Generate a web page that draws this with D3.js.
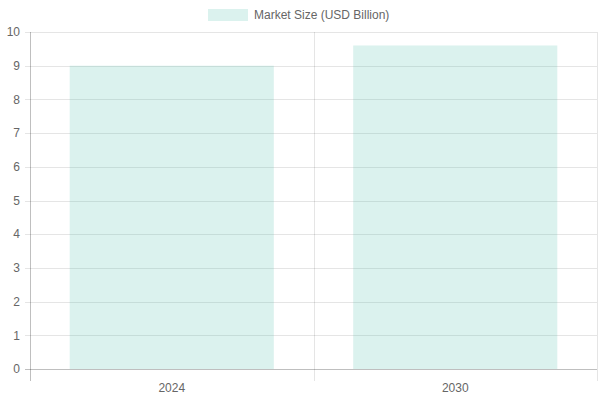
<html>
<script src="https://d3js.org/d3.v7.min.js"></script>
<style>
body{margin:0;background:#fff;}
svg{font-family:"Liberation Sans",Arial,Helvetica,sans-serif;}
</style>
<div id="chart"></div>
<script>
const years = ['2024', '2030'];
const marketSize = [9.0, 9.6];
const yTicks = [0, 1, 2, 3, 4, 5, 6, 7, 8, 9, 10];
const seriesName = 'Market Size (USD Billion)';

const width = 600, height = 400;
const margin = {top: 32, left: 30, bottom: 31, right: 3};
const barColor = 'rgba(75,192,172,0.2)';

const svg = d3.select('#chart').append('svg')
  .attr('width', width)
  .attr('height', height);

const x = d3.scaleBand()
  .domain(years)
  .range([margin.left, width - margin.right])
  .paddingInner(0).paddingOuter(0);

const y = d3.scaleLinear()
  .domain([0, 10])
  .range([height - margin.bottom, margin.top]);

// horizontal grid
svg.append('g')
  .selectAll('line')
  .data(yTicks)
  .enter().append('line')
    .attr('x1', margin.left - 5)
    .attr('x2', width - margin.right)
    .attr('y1', d => Math.round(y(d)) + 0.5)
    .attr('y2', d => Math.round(y(d)) + 0.5)
    .attr('stroke', d => d === 0 ? 'rgba(0,0,0,0.25)' : 'rgba(0,0,0,0.1)');

// vertical grid at category edges
const edges = years.map(d => x(d)).concat([x.range()[1]]);
svg.append('g')
  .selectAll('line')
  .data(edges)
  .enter().append('line')
    .attr('x1', d => Math.round(d) + 0.5)
    .attr('x2', d => Math.round(d) + 0.5)
    .attr('y1', margin.top)
    .attr('y2', height - margin.bottom + 12)
    .attr('stroke', (d, i) => i === 0 ? 'rgba(0,0,0,0.25)' : 'rgba(0,0,0,0.1)');

// bars
const barW = x.bandwidth() * 0.72;
svg.append('g')
  .selectAll('rect')
  .data(marketSize)
  .enter().append('rect')
    .attr('x', (d, i) => x(years[i]) + (x.bandwidth() - barW) / 2)
    .attr('y', d => y(d))
    .attr('width', barW)
    .attr('height', d => y(0) - y(d))
    .attr('fill', barColor);

// y tick labels
svg.append('g')
  .selectAll('text')
  .data(yTicks)
  .enter().append('text')
    .attr('x', margin.left - 10)
    .attr('y', d => y(d))
    .attr('dy', '0.35em')
    .attr('text-anchor', 'end')
    .attr('font-size', 12)
    .attr('fill', '#666')
    .text(d => d);

// x tick labels
svg.append('g')
  .selectAll('text')
  .data(years)
  .enter().append('text')
    .attr('x', d => x(d) + x.bandwidth() / 2)
    .attr('y', height - margin.bottom + 19)
    .attr('dy', '0.35em')
    .attr('text-anchor', 'middle')
    .attr('font-size', 12)
    .attr('fill', '#666')
    .text(d => d);

// legend
const legend = svg.append('g').attr('transform', 'translate(208,9)');
legend.append('rect')
  .attr('width', 40).attr('height', 12)
  .attr('fill', barColor);
legend.append('text')
  .attr('x', 46).attr('y', 6)
  .attr('dy', '0.35em')
  .attr('font-size', 12)
  .attr('fill', '#666')
  .text(seriesName);
</script>
</html>
